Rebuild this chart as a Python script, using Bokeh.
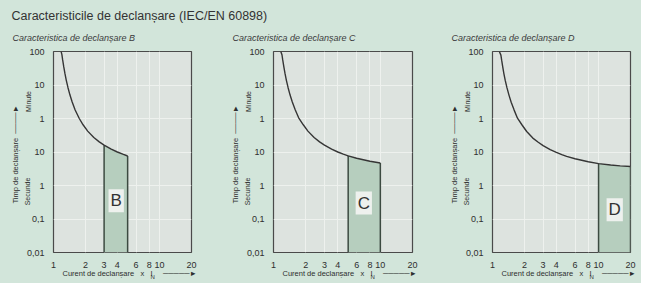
import math
from bokeh.plotting import figure
from bokeh.models import Label, FixedTicker, CustomJSTickFormatter, Range1d
from bokeh.layouts import column, row
from bokeh.embed import file_html
from bokeh.resources import INLINE

# ---------------- data ----------------
title_text = "Caracteristicile de declanșare (IEC/EN 60898)"
subtitles = ["Caracteristica de declanșare B", "Caracteristica de declanșare C", "Caracteristica de declanșare D"]
letters = ["B", "C", "D"]

x_ticks = [1, 2, 3, 4, 6, 8, 10, 20]
x_tick_labels = ["1", "2", "3", "4", "6", "8", "10", "20"]
# y axis: lower half in seconds (0,01 .. 10 s), upper half in minutes (1 .. 100 min),
# each decade equally spaced -> chart units
y_ticks = [0.01, 0.1, 1, 10, 100, 1000, 10000]
y_tick_labels = ["0,01", "0,1", "1", "10", "1", "10", "100"]

# tripping curves (x = multiple of I_N, y = chart units)
b_x = [1.18, 1.2, 1.22, 1.25, 1.28, 1.32, 1.37, 1.43, 1.5, 1.6, 1.75, 1.9, 2.1, 2.4, 2.7, 3.0, 3.5, 4.0, 4.5, 5.0]
b_y = [10000, 8100, 5600, 3450, 2250, 1380, 830, 500, 310, 180, 100, 65, 42, 27, 20, 16, 12.1, 10, 8.6, 7.6]

c_x = [1.17, 1.2, 1.22, 1.25, 1.28, 1.32, 1.37, 1.43, 1.5, 1.6, 1.72, 1.9, 2.1, 2.4, 2.7, 3.0, 3.5, 4.0, 4.5, 5.0, 6.0, 8.0, 10.0]
c_y = [10000, 8000, 5600, 3450, 2250, 1380, 830, 500, 310, 180, 105, 65, 42, 27, 20, 16, 12.1, 10, 8.6, 7.7, 6.5, 5.3, 4.7]

d_x = [1.16, 1.2, 1.22, 1.25, 1.28, 1.32, 1.37, 1.43, 1.5, 1.6, 1.72, 1.9, 2.1, 2.4, 2.7, 3.0, 3.5, 4.0, 4.5, 5.0, 6.0, 8.0, 10.0, 13.0, 16.0, 20.0]
d_y = [10000, 7800, 5500, 3400, 2200, 1350, 820, 500, 305, 178, 102, 64, 41, 26, 19.5, 15.5, 11.8, 9.8, 8.4, 7.4, 6.3, 5.1, 4.5, 4.1, 3.85, 3.7]

b_band = [3, 5]
c_band = [5, 10]
d_band = [10, 20]

# ---------------- style ----------------
BG = "#d2e5da"
PLOT_BG = "#dde3df"
BAND = "#b6cebe"
GRID = "#eef1ee"
TXT = "#2e2e2e"
FONT = "Liberation Sans"
NB = "\u00a0"

fmt_code = """
const i = tvals.findIndex(t => Math.abs(Math.log10(t) - Math.log10(tick)) < 1e-6);
return i >= 0 ? tlabels[i] : '';
"""


def txt(side, p, **kw):
    kw.setdefault("text_font", FONT)
    kw.setdefault("text_color", TXT)
    kw.setdefault("text_baseline", "middle")
    p.add_layout(Label(**kw), side)


def panel(sub, cx, cy, band, letter, letter_pos, width, left, right):
    p = figure(width=width, height=255, x_axis_type="log", y_axis_type="log",
               x_range=Range1d(1, 20), y_range=Range1d(0.01, 10000),
               output_backend="svg", toolbar_location=None,
               min_border_left=left, min_border_right=right,
               min_border_top=23, min_border_bottom=31,
               background_fill_color=PLOT_BG, border_fill_color=BG,
               styles={"background-color": BG})
    p.xaxis.ticker = FixedTicker(ticks=x_ticks, minor_ticks=[])
    p.yaxis.ticker = FixedTicker(ticks=y_ticks, minor_ticks=[])
    p.xaxis.formatter = CustomJSTickFormatter(args=dict(tvals=x_ticks, tlabels=x_tick_labels), code=fmt_code)
    p.yaxis.formatter = CustomJSTickFormatter(args=dict(tvals=y_ticks, tlabels=y_tick_labels), code=fmt_code)
    for ax in (p.xaxis, p.yaxis):
        ax.axis_line_color = None
        ax.major_tick_line_color = None
        ax.minor_tick_line_color = None
        ax.major_label_text_font = FONT
        ax.major_label_text_font_size = "9px"
        ax.major_label_text_color = TXT
    p.yaxis.major_label_standoff = 3
    p.xaxis.major_label_standoff = 3
    p.grid.grid_line_color = GRID
    p.grid.grid_line_width = 1
    p.outline_line_color = "#4a4a4a"
    p.outline_line_width = 1.2

    # band under the curve
    idx = [i for i, x in enumerate(cx) if band[0] <= x <= band[1]]
    bx = [cx[i] for i in idx]
    by = [cy[i] for i in idx]
    p.varea(x=bx, y1=[y_ticks[0]] * len(bx), y2=by, fill_color=BAND)
    p.segment(x0=[bx[0], bx[-1]], y0=[y_ticks[0]] * 2, x1=[bx[0], bx[-1]], y1=[by[0], by[-1]],
              line_color="#3c4a41", line_width=1.5)
    p.line(cx, cy, line_color="#353535", line_width=1.4)

    p.add_layout(Label(x=letter_pos[0], y=letter_pos[1], text=letter, text_font=FONT,
                       text_font_size="17px", text_color="#333333", text_align="center",
                       text_baseline="middle", background_fill_color="#eef1ee",
                       background_fill_alpha=1.0, padding=2))

    # subtitle
    txt("above", p, x=1, y=10000, x_offset=-41, y_offset=14, text=sub,
        text_font_size="9px", text_font_style="italic", text_color="#3a3a3a", text_align="left")
    # y axis texts
    txt("left", p, x=1, y=0.01, x_offset=-38, y_offset=49, angle=math.pi / 2,
        text="Timp de declanșare" + NB * 2 + "────►", text_font_size="7.5px", text_align="left")
    txt("left", p, x=1, y=0.01, x_offset=-25, y_offset=151, angle=math.pi / 2,
        text="Minute", text_font_size="7px", text_align="center")
    txt("left", p, x=1, y=0.01, x_offset=-26, y_offset=61, angle=math.pi / 2,
        text="Secunde", text_font_size="7px", text_align="center")
    # x axis texts
    txt("below", p, x=1, y=0.01, x_offset=9, y_offset=-21,
        text="Curent de declanșare" + NB * 3 + "x" + NB * 3 + "I" + NB * 5 + "─────►",
        text_font_size="7.5px", text_align="left")
    txt("above", p, x=1, y=0.01, x_offset=97, y_offset=-24, text="N",
        text_font_size="6px", text_align="left")
    return p


f1 = panel(subtitles[0], b_x, b_y, b_band, letters[0], (3.9, 0.35), 215, 53, 24)
f2 = panel(subtitles[1], c_x, c_y, c_band, letters[1], (7.0, 0.3), 218, 58, 21)
f3 = panel(subtitles[2], d_x, d_y, d_band, letters[2], (14.2, 0.19), 208, 59, 11)

t = figure(width=641, height=28, x_range=Range1d(0, 641), y_range=Range1d(0, 28),
           x_axis_type=None, y_axis_type=None, output_backend="svg", toolbar_location=None,
           min_border=0, background_fill_color=BG, border_fill_color=BG,
           styles={"background-color": BG})
t.grid.visible = False
t.outline_line_color = None
t.add_layout(Label(x=11, y=13, text=title_text, text_font=FONT, text_font_size="12.5px",
                   text_color="#333333", text_align="left", text_baseline="middle"))

layout = column(t, row(f1, f2, f3, spacing=0, styles={"background-color": BG}),
                spacing=0, styles={"background-color": BG})

with open("out.html", "w") as fh:
    fh.write(file_html(layout, INLINE))
